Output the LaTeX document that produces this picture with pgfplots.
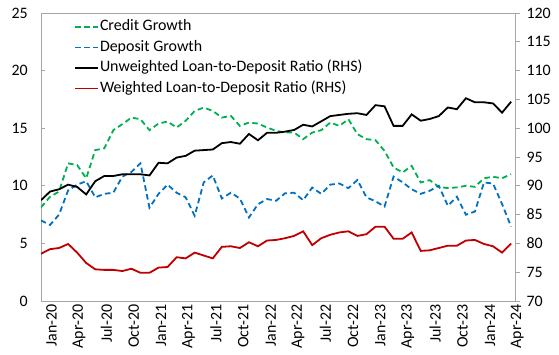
\documentclass[border=0pt]{standalone}
\usepackage{pgfplots}
\pgfplotsset{compat=1.18}
\usepackage{pgfplotstable}
\usepackage{fontspec}
\setmainfont{Carlito}
\definecolor{cgreen}{HTML}{00B050}
\definecolor{cblue}{HTML}{0070C0}
\definecolor{cred}{HTML}{C00000}
\definecolor{axgray}{HTML}{A6A6A6}
\definecolor{titleblue}{HTML}{2E75B6}

\pgfplotstableread{
x green blue black red
0 8.13 7.0 87.5 78.2
1 9.05 6.6 89.0 79.0
2 9.5 7.5 89.4 79.2
3 11.95 9.6 90.2 79.9
4 11.8 10.1 89.8 78.4
5 10.65 10.4 88.5 76.6
6 13.1 9.0 90.8 75.5
7 13.25 9.3 91.7 75.4
8 14.83 9.4 91.7 75.4
9 15.35 10.8 92.0 75.2
10 15.92 11.2 92.0 75.6
11 15.78 11.95 92.0 74.9
12 14.83 8.1 91.8 74.9
13 15.4 9.3 94.0 75.8
14 15.58 10.1 93.9 75.9
15 15.06 9.4 94.9 77.6
16 15.64 9.0 95.2 77.4
17 16.5 7.4 96.1 78.4
18 16.79 10.3 96.2 77.9
19 16.5 10.9 96.3 77.4
20 15.92 8.9 97.4 79.4
21 16.07 9.4 97.6 79.5
22 15.2 8.9 97.3 79.2
23 15.49 7.25 99.0 80.2
24 15.4 8.4 97.9 79.5
25 15.06 8.85 99.2 80.5
26 14.77 8.7 99.2 80.6
27 14.62 9.35 99.4 80.9
28 14.62 9.4 99.7 81.3
29 14.05 8.75 100.6 82.1
30 14.62 9.85 100.3 79.7
31 14.83 9.3 101.2 80.9
32 15.49 10.1 102.1 81.5
33 15.2 10.2 102.3 81.9
34 15.78 9.8 102.5 82.1
35 14.48 10.5 102.6 81.3
36 14.05 9.0 102.3 81.6
37 13.96 8.65 104.0 82.9
38 13.03 8.2 103.8 82.9
39 11.59 10.8 100.4 80.8
40 11.16 10.3 100.4 80.8
41 11.73 9.7 102.4 81.9
42 10.29 9.3 101.3 78.7
43 10.49 9.57 101.6 78.8
44 9.91 10.0 102.1 79.2
45 9.8 8.27 103.6 79.6
46 9.86 9.05 103.3 79.6
47 10.0 7.49 105.2 80.5
48 9.91 7.77 104.5 80.6
49 10.66 10.29 104.5 79.9
50 10.78 10.2 104.3 79.5
51 10.66 8.41 102.7 78.4
52 11.01 6.45 104.6 80.0
}\data

\begin{document}
\begin{tikzpicture}
\pgfplotsset{
  every axis/.append style={font=\fontsize{16}{19}\selectfont},
  /pgf/number format/assume math mode=true,
}
\begin{axis}[
  name=left,
  scale only axis, width=474bp, height=288bp,
  xmin=0, xmax=52.43, ymin=0, ymax=25,
  ytick={0,5,10,15,20,25},
  xtick={0.55,3.581,6.612,9.643,12.674,15.705,18.736,21.767,24.798,27.829,30.86,33.891,36.922,39.953,42.984,46.015,49.046,52.077},
  xticklabels={Jan-20,Apr-20,Jul-20,Oct-20,Jan-21,Apr-21,Jul-21,Oct-21,Jan-22,Apr-22,Jul-22,Oct-22,Jan-23,Apr-23,Jul-23,Oct-23,Jan-24,Apr-24},
  xtick style={draw=none},
  minor xtick={0,3.031,6.062,9.093,12.124,15.155,18.186,21.217,24.248,27.279,30.31,33.341,36.372,39.403,42.434,45.465,48.496,51.527},
  minor tick length=4bp,
  every minor tick/.style={axgray, line width=0.8bp},
  tick pos=left,
  tick align=inside,
  major tick length=4bp,
  ytick style={axgray, line width=0.8bp},
  axis line style={axgray, line width=0.8bp},
  xticklabel style={rotate=90, anchor=east, yshift=-5.5bp},
  yticklabel style={xshift=-9.7bp},
]
\addplot[cgreen, line width=1.8bp, dash pattern=on 5.5bp off 3.5bp] table[x=x, y=green] {\data};
\addplot[cblue, line width=1.8bp, dash pattern=on 5.5bp off 3.5bp] table[x=x, y=blue] {\data};
\end{axis}
\begin{axis}[
  scale only axis, width=474bp, height=288bp,
  xmin=0, xmax=52.43, ymin=70, ymax=120,
  axis x line=none,
  axis y line*=right,
  y axis line style={-, axgray, line width=0.8bp},
  ytick={70,75,...,120},
  tick align=outside,
  major tick length=5bp,
  ytick style={axgray, line width=0.8bp},
  yticklabel style={xshift=3bp},
  legend image code/.code={\draw[#1] (0bp,0bp) -- (23bp,0bp);},
  legend cell align=left,
  legend style={at={(0,1)}, anchor=north west, xshift=33bp, yshift=-3.5bp,
    draw=none, fill=none, inner sep=0pt, row sep=0pt,
    font=\fontsize{16}{19}\selectfont,
    nodes={inner xsep=1bp, inner ysep=2bp, text height=12bp, text depth=4.5bp}},
]
\addlegendimage{cgreen, line width=1.8bp, dash pattern=on 5.5bp off 3.5bp}
\addlegendentry{Credit Growth}
\addlegendimage{cblue, line width=1.8bp, dash pattern=on 5.5bp off 3.5bp}
\addlegendentry{Deposit Growth}
\addplot[black, line width=1.8bp] table[x=x, y=black] {\data};
\addlegendentry{Unweighted Loan-to-Deposit Ratio (RHS)}
\addplot[cred, line width=1.8bp] table[x=x, y=red] {\data};
\addlegendentry{Weighted Loan-to-Deposit Ratio (RHS)}
\end{axis}
\node[anchor=base west, text=titleblue, font=\fontsize{16}{19}\selectfont, inner sep=0pt] at ([xshift=-21bp,yshift=15.5bp]left.north west) {(In percent change, y/y; percent)};
\pgfresetboundingbox
\path ([xshift=-41bp,yshift=-54bp]left.south west) rectangle ([xshift=44bp,yshift=13bp]left.north east);
\end{tikzpicture}
\end{document}
